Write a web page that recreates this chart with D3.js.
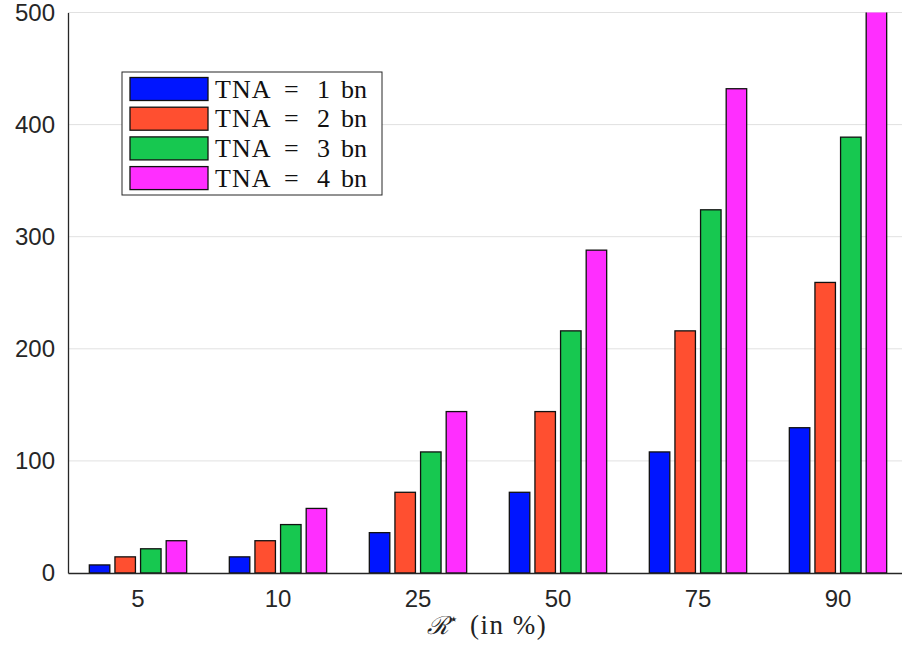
<!DOCTYPE html>
<html>
<head>
<meta charset="utf-8">
<script src="https://cdn.jsdelivr.net/npm/d3@7"></script>
<style>
  body { margin: 0; background: #fff; }
  svg { display: block; }
</style>
</head>
<body>
<div id="chart"></div>
<script>
var width = 902;
var height = 645;

// data
var categories = ["5", "10", "25", "50", "75", "90"];
var series = ["TNA = 1 bn", "TNA = 2 bn", "TNA = 3 bn", "TNA = 4 bn"];
var seriesNum = ["1", "2", "3", "4"];
var tna1 = [7.2, 14.4, 36, 72, 108, 129.6];
var tna2 = [14.4, 28.8, 72, 144, 216, 259.2];
var tna3 = [21.6, 43.2, 108, 216, 324, 388.8];
var tna4 = [28.8, 57.6, 144, 288, 432, 518.4];
var yTicks = [0, 100, 200, 300, 400, 500];
var colors = ["#0015ff", "#ff4f30", "#17c850", "#ff2eff"];

var values = [tna1, tna2, tna3, tna4];

// plot box (the right side runs past the window, as in the original)
var plotLeft = 68, plotRight = 908, plotTop = 12.5, plotBottom = 573;

var svg = d3.select("#chart").append("svg")
    .attr("width", width)
    .attr("height", height);

var x0 = d3.scaleBand()
    .domain(categories)
    .range([plotLeft, plotRight])
    .padding(0);

var bw = x0.bandwidth();
var x1 = d3.scaleBand()
    .domain(series)
    .range([bw * 0.134, bw * 0.866])
    .paddingInner(0.2)
    .paddingOuter(0.1);

var y = d3.scaleLinear()
    .domain([0, 500])
    .range([plotBottom, plotTop]);

svg.append("defs").append("clipPath").attr("id", "plot-clip")
    .append("rect")
    .attr("x", plotLeft).attr("y", plotTop)
    .attr("width", plotRight - plotLeft).attr("height", plotBottom - plotTop);

// grid
svg.append("g")
    .selectAll("line")
    .data(yTicks.slice(1))
    .enter().append("line")
        .attr("x1", plotLeft).attr("x2", plotRight)
        .attr("y1", d => y(d)).attr("y2", d => y(d))
        .attr("stroke", "#e1e1e1")
        .attr("stroke-width", 1);

// bars
var rows = [];
categories.forEach(function(c, i) {
    series.forEach(function(s, j) {
        rows.push({cat: c, ser: s, j: j, v: values[j][i]});
    });
});

svg.append("g")
    .attr("clip-path", "url(#plot-clip)")
    .selectAll("rect")
    .data(rows)
    .enter().append("rect")
        .attr("x", d => x0(d.cat) + x1(d.ser))
        .attr("y", d => y(d.v))
        .attr("width", x1.bandwidth())
        .attr("height", d => y(0) - y(d.v))
        .attr("fill", d => colors[d.j])
        .attr("stroke", "#111")
        .attr("stroke-width", 1.3);

// axes
var yAxis = d3.axisLeft(y).tickValues(yTicks).tickSize(0).tickPadding(13);
var gy = svg.append("g")
    .attr("transform", "translate(" + plotLeft + ",0)")
    .call(yAxis);
gy.select(".domain").attr("stroke", "#262626").attr("stroke-width", 1.3);
gy.selectAll("text")
    .attr("font-family", "Liberation Sans, Arial, sans-serif")
    .attr("font-size", 24)
    .attr("fill", "#262626");

var xAxis = d3.axisBottom(x0).tickSize(0).tickPadding(17);
var gx = svg.append("g")
    .attr("transform", "translate(0," + plotBottom + ")")
    .call(xAxis);
gx.select(".domain").attr("stroke", "#262626").attr("stroke-width", 1.3);
gx.selectAll("text")
    .attr("font-family", "Liberation Sans, Arial, sans-serif")
    .attr("font-size", 24)
    .attr("fill", "#262626");

// x label
var xl = svg.append("text")
    .attr("x", 427)
    .attr("y", 634)
    .attr("font-family", "DejaVu Serif, Liberation Serif, serif")
    .attr("font-size", 25)
    .attr("fill", "#222");
xl.append("tspan").attr("font-style", "italic").text("\u211B");
xl.append("tspan").attr("font-size", 15).attr("dy", -10).text("\u22C6");
xl.append("tspan").attr("x", 470).attr("dy", 10)
    .attr("font-family", "Liberation Serif, serif")
    .attr("font-size", 27)
    .attr("letter-spacing", 1.5)
    .text("(in %)");

// legend
var legend = svg.append("g").attr("transform", "translate(122,72)");
legend.append("rect")
    .attr("width", 260).attr("height", 123)
    .attr("fill", "#fff")
    .attr("stroke", "#262626")
    .attr("stroke-width", 1);

var item = legend.selectAll("g.item")
    .data(series)
    .enter().append("g")
        .attr("class", "item")
        .attr("transform", (d, i) => "translate(8," + (5.5 + i * 29.7) + ")");

item.append("rect")
    .attr("width", 78).attr("height", 23)
    .attr("fill", (d, i) => colors[i])
    .attr("stroke", "#111")
    .attr("stroke-width", 1.3);

var lt = item.append("text")
    .attr("y", 20)
    .attr("font-family", "Liberation Serif, Times New Roman, serif")
    .attr("font-size", 26)
    .attr("fill", "#111");
lt.append("tspan").attr("x", 85).attr("letter-spacing", 1).text("TNA");
lt.append("tspan").attr("x", 154).text("=");
lt.append("tspan").attr("x", 187).text((d, i) => seriesNum[i]);
lt.append("tspan").attr("x", 211).text("bn");
</script>
</body>
</html>
